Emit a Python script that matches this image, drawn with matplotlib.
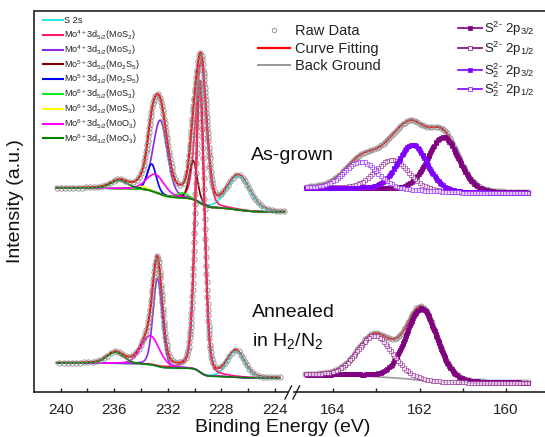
import numpy as np
import matplotlib
matplotlib.use('Agg')
import matplotlib.pyplot as plt

plt.rcParams['font.family'] = ['Liberation Sans', 'DejaVu Sans']
plt.rcParams['mathtext.fontset'] = 'custom'
plt.rcParams['mathtext.rm'] = 'Liberation Sans'
plt.rcParams['mathtext.it'] = 'Liberation Sans:italic'
plt.rcParams['mathtext.bf'] = 'Liberation Sans:bold'
plt.rcParams['mathtext.default'] = 'regular'

# ---------------- data ----------------
mo_labels = ['S 2s',
             'Mo$^{4+}$3d$_{5/2}$(MoS$_2$)',
             'Mo$^{4+}$3d$_{3/2}$(MoS$_2$)',
             'Mo$^{5+}$3d$_{5/2}$(Mo$_2$S$_5$)',
             'Mo$^{5+}$3d$_{3/2}$(Mo$_2$S$_5$)',
             'Mo$^{6+}$3d$_{5/2}$(MoS$_3$)',
             'Mo$^{6+}$3d$_{3/2}$(MoS$_3$)',
             'Mo$^{6+}$3d$_{5/2}$(MoO$_3$)',
             'Mo$^{6+}$3d$_{3/2}$(MoO$_3$)']
mo_colors = ['#2ee6e6', '#ff1a66', '#8c2be6', '#800000', '#0000ff',
             '#19e619', '#ffff00', '#ff00ff', '#008000']

# As-grown, Mo 3d + S 2s: peak centre (eV), height above background, FWHM (eV)
grown_mo_center = [226.7, 229.5, 232.56, 230.1, 233.2, 230.9, 234.0, 232.9, 235.6]
grown_mo_height = [34, 142, 74, 39, 27, 5, 3, 18, 8]
grown_mo_fwhm = [2.0, 0.95, 1.25, 0.7, 0.8, 1.0, 1.0, 1.6, 1.5]
grown_mo_bg = [180, 204]          # background level at low-BE end, high-BE end
grown_mo_span = [223.3, 240.3]

# Annealed in H2/N2, Mo 3d + S 2s
ann_mo_center = [226.9, 229.6, 232.76, 230.1, 233.2, 230.9, 234.0, 233.3, 235.9]
ann_mo_height = [26, 290, 88, 0, 0, 0, 0, 29, 11]
ann_mo_fwhm = [1.5, 0.78, 0.8, 0.7, 0.8, 1.0, 1.0, 1.6, 1.5]
ann_mo_bg = [14, 29]
ann_mo_span = [223.65, 240.3]

s_labels = ['S$^{2\\text{-}}$ 2p$_{3/2}$', 'S$^{2\\text{-}}$ 2p$_{1/2}$',
            'S$_2^{2\\text{-}}$ 2p$_{3/2}$', 'S$_2^{2\\text{-}}$ 2p$_{1/2}$']
s_colors = ['#800080', '#800080', '#8000ff', '#8000ff']
s_filled = [True, False, True, False]

grown_s_center = [161.45, 162.63, 162.16, 163.35]
grown_s_height = [55, 30, 46, 27]
grown_s_fwhm = [0.85, 0.9, 0.8, 0.9]
grown_s_bg = [199, 204]
grown_s_span = [159.5, 164.65]

ann_s_center = [161.95, 163.03, 162.16, 163.35]
ann_s_height = [72, 41, 0, 0]
ann_s_fwhm = [0.85, 0.95, 0.8, 0.9]
ann_s_bg = [9, 17]
ann_s_span = [159.5, 164.65]

left_ticks = [240, 236, 232, 228, 224]
left_minor = [238, 234, 230, 226]
right_ticks = [164, 162, 160]
right_minor = [163, 161]


def profile(E, c, h, w, m=0.2):
    x = (E - c) / w
    return h * ((1 - m) * np.exp(-4 * np.log(2) * x ** 2) + m / (1 + 4 * x ** 2))


def shirley(E, signal, b_low, b_high):
    order = np.argsort(E)
    cs = np.cumsum(signal[order])
    out = np.empty_like(E)
    out[order] = b_low + (b_high - b_low) * cs / cs[-1]
    return out


def draw_mo(ax, centers, heights, fwhms, bg, span):
    E = np.arange(span[0], span[1] + 1e-9, 0.02)
    comps = [profile(E, c, h, w) if h > 0 else None
             for c, h, w in zip(centers, heights, fwhms)]
    tot = sum(c for c in comps if c is not None)
    B = shirley(E, tot, bg[0], bg[1])
    ax.plot(E, B, color='#999999', lw=1.2, zorder=2)
    ax.plot(E, B + tot, color='#ff0000', lw=1.6, zorder=3)
    for comp, col in zip(comps, mo_colors):
        if comp is not None:
            ax.plot(E, B + comp, color=col, lw=1.2, zorder=4)
    ax.plot(E, B + tot, ls='none', marker='o', mfc='none', mec='#8a8a8a',
            ms=3.8, mew=0.6, markevery=0.009, zorder=5)


def draw_s(ax, centers, heights, fwhms, bg, span):
    E = np.arange(span[0], span[1] + 1e-9, 0.01)
    comps = [profile(E, c, h, w) if h > 0 else None
             for c, h, w in zip(centers, heights, fwhms)]
    tot = sum(c for c in comps if c is not None)
    B = shirley(E, tot, bg[0], bg[1])
    ax.plot(E, B, color='#999999', lw=1.2, zorder=2)
    ax.plot(E, B + tot, color='#ff0000', lw=1.4, zorder=3)
    ax.plot(E, B + tot, ls='none', marker='o', mfc='none', mec='#8a8a8a',
            ms=3.6, mew=0.6, markevery=0.006, zorder=3.5)
    for comp, col, filled in zip(comps, s_colors, s_filled):
        if comp is None:
            continue
        if filled:
            ax.plot(E, B + comp, color=col, lw=1.0, marker='s', ms=3.0,
                    mfc=col, mec=col, mew=0.5, markevery=0.0045, zorder=4)
        else:
            ax.plot(E, B + comp, color=col, lw=0.8, marker='s', ms=3.2,
                    mfc='white', mec=col, mew=0.5, markevery=0.0065,
                    alpha=0.75, zorder=4)


W, H = 545, 437
fig = plt.figure(figsize=(W / 100, H / 100), dpi=100)

y_bot, y_top = 392, 11
ymax = y_bot - y_top
axL = fig.add_axes([34 / W, (H - y_bot) / H, (288 - 34) / W, ymax / H])
axR = fig.add_axes([294 / W, (H - y_bot) / H, (W - 294) / W, ymax / H])

for ax in (axL, axR):
    ax.set_ylim(0, ymax)
    ax.set_yticks([])
    ax.spines['top'].set_visible(False)
    ax.patch.set_alpha(0)
    for sp in ax.spines.values():
        sp.set_linewidth(1.2)
        sp.set_color('#222222')
    ax.tick_params(axis='x', which='both', direction='in', width=1.0,
                   labelsize=11, pad=8, colors='#222222')
    ax.tick_params(axis='x', which='major', length=3.2)
    ax.tick_params(axis='x', which='minor', length=3.0)
axL.spines['right'].set_visible(False)
axR.spines['left'].set_visible(False)
axR.spines['right'].set_visible(False)

axL.set_xlim(241.99, 223.02)
axR.set_xlim(164.9, 159.1)
axL.set_xticks(left_ticks)
axL.set_xticks(left_minor, minor=True)
axR.set_xticks(right_ticks)
axR.set_xticks(right_minor, minor=True)

draw_mo(axL, grown_mo_center, grown_mo_height, grown_mo_fwhm, grown_mo_bg, grown_mo_span)
draw_mo(axL, ann_mo_center, ann_mo_height, ann_mo_fwhm, ann_mo_bg, ann_mo_span)
draw_s(axR, grown_s_center, grown_s_height, grown_s_fwhm, grown_s_bg, grown_s_span)
draw_s(axR, ann_s_center, ann_s_height, ann_s_fwhm, ann_s_bg, ann_s_span)

# overlay in pixel coordinates for legends, frame top and axis break
ov = fig.add_axes([0, 0, 1, 1], zorder=10)
ov.set_xlim(0, W)
ov.set_ylim(H, 0)
ov.axis('off')
ov.patch.set_alpha(0)

ov.plot([34, W], [11, 11], color='#222222', lw=1.2, solid_capstyle='butt')
ov.plot([285, 291.5], [399, 386], color='#222222', lw=1.0)
ov.plot([293, 299.5], [399, 386], color='#222222', lw=1.0)

# left legend
for i, (lab, col) in enumerate(zip(mo_labels, mo_colors)):
    yy = 20 + 14.8 * i
    ov.plot([43, 63], [yy, yy], color=col, lw=1.5)
    ov.text(64.5, yy + 3.2, lab, fontsize=6.6, va='baseline', ha='left', color='#222222')

# middle legend
ov.plot([274], [30], ls='none', marker='o', mfc='none', mec='#8a8a8a', ms=3.2, mew=0.6)
ov.plot([258, 290], [48, 48], color='#ff0000', lw=1.6)
ov.plot([258, 290], [65, 65], color='#999999', lw=1.4)
for yy, lab in zip([30, 48, 65], ['Raw Data', 'Curve Fitting', 'Back Ground']):
    ov.text(295, yy + 5, lab, fontsize=10.5, va='baseline', ha='left', color='#222222')

# right legend
for yy, lab, col, filled in zip([28, 48, 70, 89], s_labels, s_colors, s_filled):
    ov.plot([458, 482], [yy, yy], color=col, lw=1.2)
    ov.plot([470], [yy], ls='none', marker='s', ms=3.2, mec=col,
            mfc=col if filled else 'white', mew=0.5)
    ov.text(484, yy + 4.5, lab, fontsize=9.5, va='baseline', ha='left', color='#222222')

ov.text(251, 160, 'As-grown', fontsize=14, va='baseline', ha='left', color='#111111')
ov.text(252, 317, 'Annealed', fontsize=14, va='baseline', ha='left', color='#111111')
ov.text(252, 346, 'in H$_2$/N$_2$', fontsize=14, va='baseline', ha='left', color='#111111')

ov.text(16, 201, 'Intensity (a.u.)', fontsize=14, rotation=90, va='center', ha='center', color='#111111')
ov.text(283, 428, 'Binding Energy (eV)', fontsize=14, va='center', ha='center', color='#111111')

fig.savefig('out.png', dpi=100)
